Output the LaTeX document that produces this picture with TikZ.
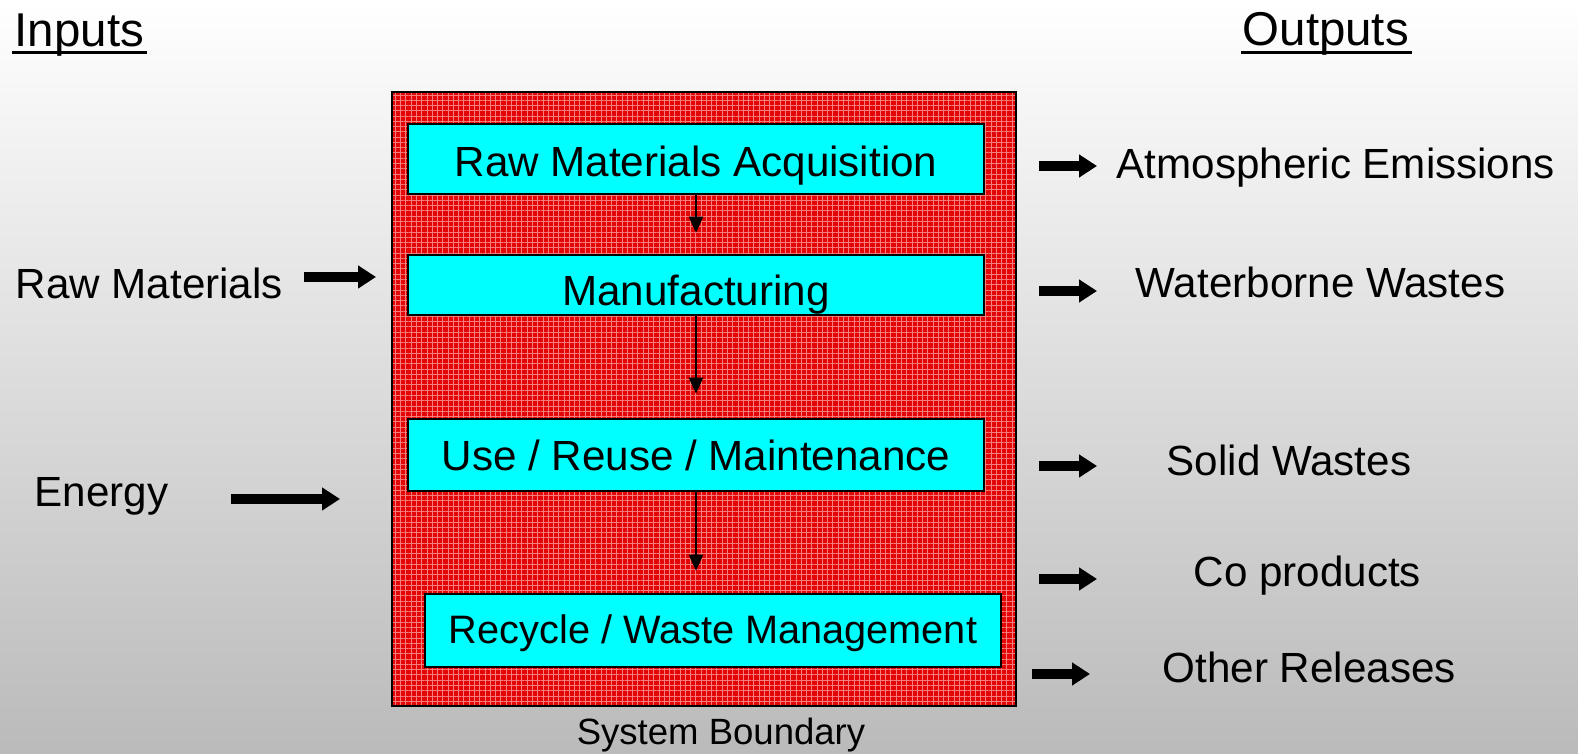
\documentclass[tikz,border=0pt]{standalone}
\usepackage{fontspec}
\setmainfont{Liberation Sans}
\usetikzlibrary{arrows.meta,patterns.meta}

\definecolor{bndred}{RGB}{226,6,6}
\definecolor{bndgrid}{RGB}{245,125,125}
\definecolor{stagecyan}{RGB}{0,255,255}

\tikzset{
  boundary/.style={draw=black, line width=0.2mm, inner sep=0pt,
    preaction={fill=bndred},
    pattern={Hatch[angle=0,distance=1.5pt,line width=0.28pt]}, pattern color=bndgrid},
  stage/.style={draw=black, line width=0.25mm, fill=stagecyan, inner sep=0pt,
    minimum width=57.6mm, text depth=0pt, font=\fontsize{12}{14}\selectfont},
  flow/.style={line width=0.2mm, -{Triangle[length=1.6mm,width=1.4mm]}},
  fat/.style={line width=1.0mm, -{Triangle[length=1.8mm,width=2.2mm]}},
  lbl/.style={anchor=base west, inner sep=0pt, font=\fontsize{12}{14}\selectfont},
  head/.style={anchor=base west, inner sep=0pt, font=\fontsize{13.5}{16}\selectfont},
}

\begin{document}
\begin{tikzpicture}[x=0.1mm, y={(0mm,-0.1mm)}]
  % background
  \shade[top color=white, middle color=black!10, bottom color=black!27] (0,0) rectangle (1578,754);
  \useasboundingbox (0,0) rectangle (1578,754);

  % system boundary and life cycle stages
  \node[boundary, minimum width=62.4mm, minimum height=61.4mm] (bound) at (704,399) {};
  \node[stage, minimum height=7mm, text height=3.6mm] (rma) at (696,159) {Raw Materials Acquisition};
  \node[stage, minimum height=6mm, text height=4.2mm] (mfg) at (696,285) {Manufacturing};
  \node[stage, minimum height=7.2mm, text height=3.2mm] (use) at (696,455) {Use / Reuse / Maintenance};
  \node[stage, minimum height=7.3mm, text height=2.7mm, font=\fontsize{11.3}{14}\selectfont] (rwm) at (713,630.5) {Recycle / Waste Management};
  \node[anchor=base, inner sep=0pt, font=\fontsize{10.4}{12}\selectfont] (sysb) at (721,745) {System Boundary};

  \draw[flow, shorten >=2.1mm] (rma) -- (mfg);
  \draw[flow, shorten >=2.4mm] (mfg) -- (use);
  \draw[flow, shorten >=2.2mm] (use.south) -- (use.south |- rwm.north);

  % headings
  \node[head] (inputs) at (14,47) {Inputs};
  \node[head] (outputs) at (1242,46) {Outputs};
  \draw[line width=0.3mm] ([shift={(-2,5.5)}]inputs.base west) -- ([shift={(2,5.5)}]inputs.base east);
  \draw[line width=0.3mm] ([shift={(-1,6.5)}]outputs.base west) -- ([shift={(2,6.5)}]outputs.base east);

  % inputs
  \node[lbl] (rawmat) at (15,299) {Raw Materials};
  \node[lbl] (energy) at (34,507) {Energy};
  \coordinate (rawmat a) at (304,277);
  \coordinate (rawmat b) at (376,277);
  \coordinate (energy a) at (231,499);
  \coordinate (energy b) at (340,499);
  \draw[fat] (rawmat a) -- (rawmat b);
  \draw[fat] (energy a) -- (energy b);

  % outputs
  \node[lbl] (atmos) at (1116,179) {Atmospheric Emissions};
  \node[lbl] (water) at (1135,298) {Waterborne Wastes};
  \node[lbl] (solid) at (1166,476) {Solid Wastes};
  \node[lbl] (coprod) at (1193,587) {Co products};
  \node[lbl] (other) at (1162,683) {Other Releases};
  \foreach \n/\x/\y in {atmos/1039/166, water/1039/291, solid/1039/466, coprod/1039/579, other/1032/674} {
    \coordinate (\n a) at (\x,\y);
    \coordinate (\n b) at (\x+58,\y);
    \draw[fat] (\n a) -- (\n b);
  }
\end{tikzpicture}
\end{document}
